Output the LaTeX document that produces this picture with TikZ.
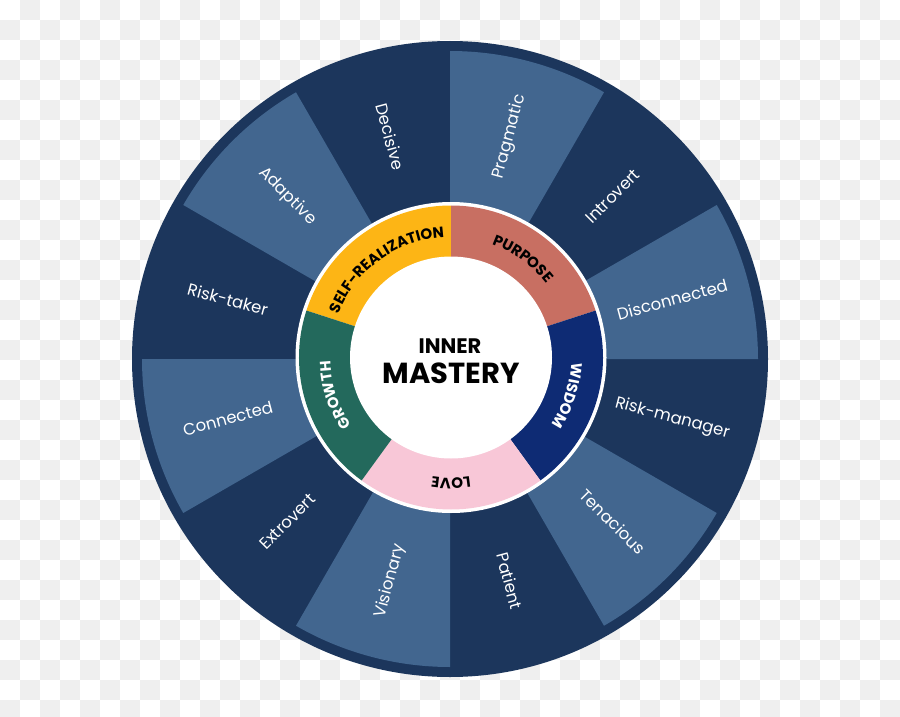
\documentclass[tikz,border=0pt]{standalone}
\usepackage{fontspec}
\setmainfont{Poppins}
\usetikzlibrary{decorations.text}
\definecolor{chk}{RGB}{239,239,239}
\definecolor{darkb}{HTML}{1C365C}
\definecolor{lightb}{HTML}{42668F}
\definecolor{yel}{HTML}{FDB515}
\definecolor{sal}{HTML}{C86F62}
\definecolor{wis}{HTML}{0E2B74}
\definecolor{pnk}{HTML}{F8C7D7}
\definecolor{grn}{HTML}{23695C}
\newcommand{\ringfont}{\bfseries\fontsize{15}{15}\selectfont}
\tikzset{
  wlabel/.style={text=white, font=\fontsize{16.5}{16.5}\selectfont, inner sep=0pt},
  lightwedge/.style={fill=lightb},
  ringtext/.style={decorate, decoration={text along path, text align=center, text color=#1}},
}
\begin{document}
\begin{tikzpicture}[x=1pt,y=1pt]
\useasboundingbox (0,0) rectangle (900,-717);
\clip (0,0) rectangle (900,-717);
\fill[white] (0,0) rectangle (900,-717);
\foreach \i in {0,...,44}{\foreach \j in {0,...,35}{%
  \pgfmathtruncatemacro\p{mod(\i+\j,2)}%
  \ifnum\p=1 \fill[chk] (\i*20,-\j*20) rectangle ++(20,-20);\fi}}
\coordinate (W) at (450,-359);
\coordinate (R) at (451,-357.5);
% outer disk
\fill[darkb] (W) circle[radius=318];
% light wedges
\foreach \a in {0,60,120,180,240,300}{
  \fill[lightwedge] (W) -- ([shift={(W)}]\a:308) arc[start angle=\a, end angle=\a+30, radius=308] -- cycle;
}
% wedge labels
\foreach \n/\t/\a/\r in {dec/Decisive/105/-75, prag/Pragmatic/75/75, intro/Introvert/45/45,
   disc/Disconnected/15/15, rman/Risk-manager/-15/-15, ten/Tenacious/-45/-45,
   pat/Patient/-75/-75, vis/Visionary/-105/75, ext/Extrovert/-135/45,
   con/Connected/-165/15, rtak/Risk-taker/165/-15, adap/Adaptive/135/-45}{
  \node[wlabel, rotate=\r] (\n) at ([shift={(W)}]\a:230) {\t};
}
% inner ring
\fill[white] (R) circle[radius=155.5];
\fill[yel] (R) -- ([shift={(R)}]90:152) arc[start angle=90, end angle=162, radius=152] -- cycle;
\fill[sal] (R) -- ([shift={(R)}]18:152) arc[start angle=18, end angle=90, radius=152] -- cycle;
\fill[wis] (R) -- ([shift={(R)}]-54:152) arc[start angle=-54, end angle=18, radius=152] -- cycle;
\fill[pnk] (R) -- ([shift={(R)}]-126:152) arc[start angle=-126, end angle=-54, radius=152] -- cycle;
\fill[grn] (R) -- ([shift={(R)}]162:152) arc[start angle=162, end angle=234, radius=152] -- cycle;
\fill[white] (R) circle[radius=101];
% ring labels
\path[ringtext=black, decoration={text={|\ringfont|SELF-REALIZATION}}] ([shift={(R)}]163:120.5) arc[start angle=163, end angle=89, radius=120.5];
\path[ringtext=black, decoration={text={|\ringfont|PURPOSE}}] ([shift={(R)}]90:120.5) arc[start angle=90, end angle=18, radius=120.5];
\path[ringtext=white, decoration={text={|\ringfont|WISDOM}}] ([shift={(R)}]18:120.5) arc[start angle=18, end angle=-54, radius=120.5];
\path[ringtext=black, decoration={text={|\ringfont|LOVE}}] ([shift={(R)}]-54:120.5) arc[start angle=-54, end angle=-126, radius=120.5];
\path[ringtext=white, decoration={text={|\ringfont|GROWTH}}] ([shift={(R)}]234:120.5) arc[start angle=234, end angle=162, radius=120.5];
% centre
\node[anchor=base, font=\bfseries\fontsize{21}{21}\selectfont, inner sep=0pt] (inner) at (450,-353) {INNER};
\node[anchor=base, font=\bfseries\fontsize{29}{29}\selectfont, inner sep=0pt] (mastery) at (451.5,-383.3) {MASTERY};
\end{tikzpicture}
\end{document}
